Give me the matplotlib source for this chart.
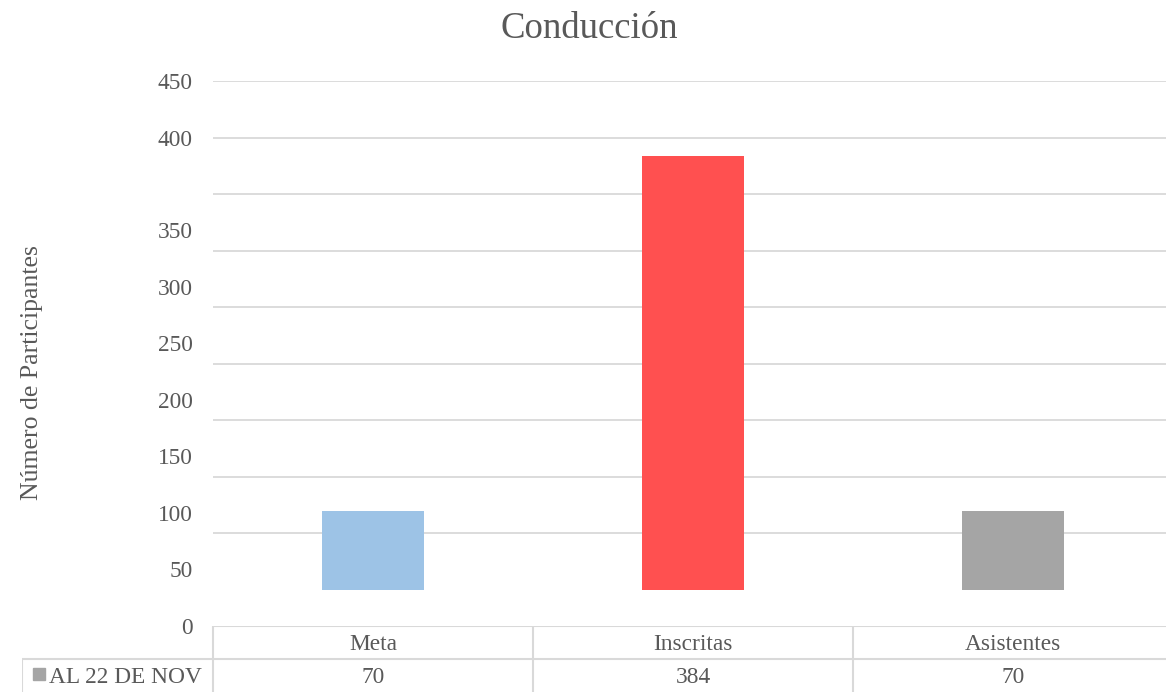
import matplotlib
matplotlib.use("Agg")
import matplotlib.pyplot as plt

plt.rcParams['font.family'] = ['Liberation Serif', 'DejaVu Serif']

title = "Conducción"
ylabel = "Número de Participantes"
categories = ["Meta", "Inscritas", "Asistentes"]
values = [70, 384, 70]
colors = ["#9DC3E6", "#FF5050", "#A5A5A5"]
series_name = "AL 22 DE NOV"
series_color = "#A5A5A5"
tick_values = [0, 50, 100, 150, 200, 250, 300, 350, 400, 450]
grid_values = [50, 100, 150, 200, 250, 300, 350, 400, 450]

TXT = "#595959"
GRID = "#D9D9D9"
FS = 16.8
W, H = 1166, 692
fig = plt.figure(figsize=(W / 100, H / 100), dpi=100)

# main axes in pixel layout
left, right, top, bottom = 213, 1166, 81, 626
ax = fig.add_axes([left / W, 1 - bottom / H, (right - left) / W, (bottom - top) / H])
ymin = -31.8
ax.set_ylim(ymin, 450)
ax.set_xlim(-0.5, 2.478)
x = list(range(len(categories)))
ax.bar(x, values, width=0.316, color=colors, zorder=3)

for g in grid_values:
    ax.axhline(g, color=GRID, lw=1.3, zorder=1)

# tick labels (rendered offset as in the source chart)
offset = 32
label_pos = [v - offset if v <= 350 else v for v in tick_values]
ax.set_yticks(label_pos)
ax.set_yticklabels([str(v) for v in tick_values], fontsize=FS, color=TXT)
ax.tick_params(axis='y', length=0, pad=14.5)
ax.set_xticks([])
for s in ax.spines.values():
    s.set_visible(False)

fig.text(32 / W, 1 - 373 / H, ylabel, rotation=90, ha='center', va='center',
         fontsize=18.5, color=TXT)
fig.text(589 / W, 1 - 29 / H, title, ha='center', va='center', fontsize=26.5, color=TXT)

# data table
tl, tr, tt, tb = 22, 1166, 626, 692
tax = fig.add_axes([tl / W, 1 - tb / H, (tr - tl) / W, (tb - tt) / H])
px_per_unit = (right - left) / (2.478 + 0.5)
tax.set_xlim(-0.5 - (left - tl) / px_per_unit, 2.478)
tax.set_ylim(0, 2)
tax.axis('off')
lk = dict(color=GRID, lw=1.5, solid_capstyle='butt')
x0 = tax.get_xlim()[0]
tax.plot([-0.5, 2.478], [2, 2], **lk)
tax.plot([x0, 2.478], [1, 1], **lk)
tax.plot([-0.5, -0.5], [0, 2], **lk)
tax.plot([0.5, 0.5], [0, 2], **lk)
tax.plot([1.5, 1.5], [0, 2], **lk)
tax.plot([x0, x0], [0, 1], **lk)
for i, (c, v) in enumerate(zip(categories, values)):
    tax.text(i, 1.45, c, ha='center', va='center', fontsize=FS, color=TXT)
    tax.text(i, 0.45, str(v), ha='center', va='center', fontsize=FS, color=TXT)
tax.plot([x0 + 0.052], [0.55], marker='s', ms=8.5, color=series_color, ls='none')
tax.text(x0 + 0.085, 0.45, series_name, ha='left', va='center', fontsize=FS, color=TXT)

fig.savefig("out.png", dpi=100)
